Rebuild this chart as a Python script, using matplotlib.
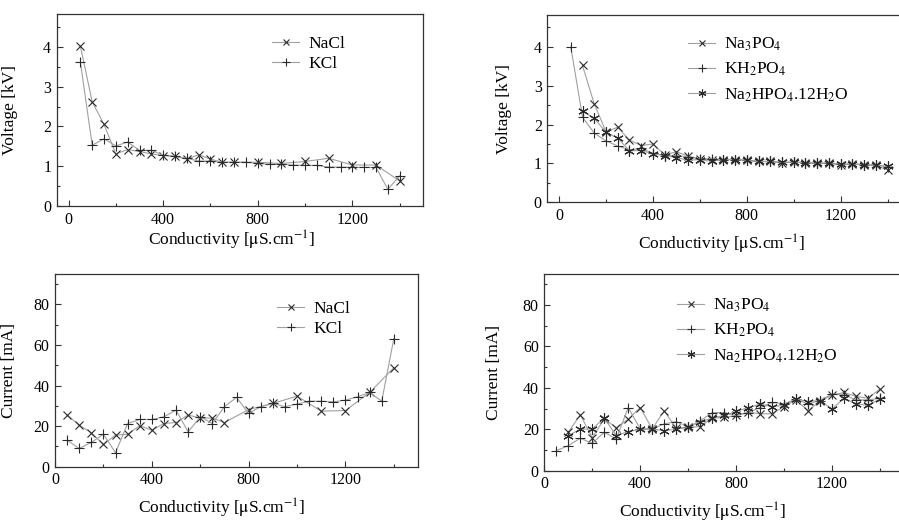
import matplotlib
matplotlib.use("Agg")
import matplotlib.pyplot as plt

plt.rcParams['font.family'] = ['Liberation Serif', 'DejaVu Serif']
plt.rcParams['mathtext.fontset'] = 'stix'

# conductivity grids
x_nacl = [50, 100, 150, 200, 250, 300, 350, 400, 450, 500, 550, 600, 650, 700,
          800, 900, 1000, 1100, 1200, 1300, 1400]
x_kcl = list(range(50, 1401, 50))
x_na3 = list(range(100, 1401, 50))
x_kh2 = list(range(50, 1401, 50))
x_na2 = list(range(100, 1401, 50))

# voltage [kV]
v_nacl = [4.02, 2.62, 2.05, 1.31, 1.42, 1.37, 1.31, 1.27, 1.25, 1.18, 1.29, 1.18, 1.1, 1.1,
          1.1, 1.07, 1.12, 1.2, 1.03, 1.03, 0.63]
v_kcl = [3.62, 1.53, 1.69, 1.51, 1.61, 1.4, 1.4, 1.28, 1.25, 1.2, 1.13, 1.13, 1.1, 1.1,
         1.1, 1.07, 1.05, 1.05, 1.03, 1.02, 1.02, 0.98, 0.98, 0.97, 0.97, 0.97, 0.42, 0.76]
v_na3 = [3.52, 2.53, 1.82, 1.93, 1.6, 1.46, 1.5, 1.22, 1.3, 1.19, 1.11, 1.1, 1.1, 1.1,
         1.08, 1.05, 1.05, 1.02, 1.03, 1.02, 1.0, 1.0, 0.97, 0.98, 0.97, 0.95, 0.83]
v_kh2 = [4.0, 2.19, 1.78, 1.58, 1.45, 1.35, 1.39, 1.26, 1.2, 1.2, 1.17, 1.12, 1.12, 1.1,
         1.1, 1.08, 1.05, 1.05, 1.03, 1.03, 1.02, 1.0, 1.0, 0.98, 0.98, 0.97, 0.95, 0.92]
v_na2 = [2.35, 2.16, 1.8, 1.65, 1.33, 1.33, 1.25, 1.2, 1.15, 1.08, 1.1, 1.05, 1.1, 1.1,
         1.08, 1.05, 1.05, 1.03, 1.03, 1.02, 1.0, 1.02, 0.98, 0.98, 0.97, 0.95, 0.93]

# current [mA]
i_nacl = [25.5, 20.5, 16.7, 11.0, 15.6, 16.0, 20.2, 18.0, 21.3, 21.8, 25.5, 24.0, 24.0, 21.8,
          28.2, 31.2, 34.8, 27.4, 27.7, 36.6, 48.8]
i_kcl = [13.1, 9.0, 12.0, 16.0, 6.9, 21.3, 23.3, 23.3, 24.6, 27.9, 17.2, 24.6, 21.3, 29.6,
         34.2, 26.3, 29.6, 31.2, 29.6, 30.9, 32.3, 32.3, 32.0, 32.8, 34.5, 36.6, 32.3, 63.2]
i_na3 = [18.6, 27.0, 16.0, 25.0, 20.8, 24.9, 30.5, 20.2, 28.9, 20.5, 21.0, 21.3, 25.4, 25.7,
         26.7, 28.3, 27.5, 27.5, 31.0, 34.2, 29.0, 33.6, 36.5, 37.8, 35.9, 35.0, 39.4]
i_kh2 = [9.7, 12.1, 15.7, 13.2, 18.6, 15.3, 30.5, 20.2, 20.2, 22.6, 23.7, 21.3, 24.0, 28.1,
         28.1, 26.5, 28.1, 30.5, 33.0, 32.3, 34.6, 32.3, 33.9, 37.0, 36.7, 34.2, 34.2, 35.0]
i_na2 = [17.0, 20.0, 20.2, 25.4, 17.0, 18.9, 20.0, 20.0, 19.4, 20.0, 21.0, 23.7, 25.4, 26.7,
         28.6, 30.5, 32.1, 31.0, 31.5, 34.7, 33.4, 33.9, 29.8, 35.0, 32.3, 31.5, 34.7]

line_c = '#a0a0a0'
mark_c = '#2a2a2a'

fig = plt.figure(figsize=(8.99, 5.25), dpi=100)
ax1 = fig.add_axes([0.0631, 0.6076, 0.4078, 0.3651])
ax2 = fig.add_axes([0.6088, 0.6147, 0.4046, 0.3568])
ax3 = fig.add_axes([0.0612, 0.1110, 0.4038, 0.3670])
ax4 = fig.add_axes([0.6055, 0.1034, 0.3999, 0.3747])


def series(ax, x, y, marker, label, ms=6):
    ax.plot(x, y, color=line_c, lw=0.8, marker=marker, ms=ms, mfc='none',
            mec=mark_c, mew=0.8, label=label)


series(ax1, x_nacl, v_nacl, 'x', 'NaCl')
series(ax1, x_kcl, v_kcl, '+', 'KCl', 7.5)
series(ax2, x_na3, v_na3, 'x', 'Na$_3$PO$_4$')
series(ax2, x_kh2, v_kh2, '+', 'KH$_2$PO$_4$', 7.5)
series(ax2, x_na2, v_na2, (6, 2, 0), 'Na$_2$HPO$_4$.12H$_2$O', 7.5)
series(ax3, x_nacl, i_nacl, 'x', 'NaCl')
series(ax3, x_kcl, i_kcl, '+', 'KCl', 7.5)
series(ax4, x_na3, i_na3, 'x', 'Na$_3$PO$_4$')
series(ax4, x_kh2, i_kh2, '+', 'KH$_2$PO$_4$', 7.5)
series(ax4, x_na2, i_na2, (6, 2, 0), 'Na$_2$HPO$_4$.12H$_2$O', 7.5)

xlab = 'Conductivity [$\\mathrm{\\mu}$S.cm$^{-1}$]'

for ax in (ax1, ax2):
    ax.set_xlim(-50, 1500)
    ax.set_ylim(0, 4.82)
    ax.set_yticks([0, 1, 2, 3, 4])
    ax.set_yticks([0.5, 1.5, 2.5, 3.5, 4.5], minor=True)
    ax.set_ylabel('Voltage [kV]', fontsize=12.5)
for ax in (ax3, ax4):
    ax.set_xlim(0, 1500)
    ax.set_ylim(0, 95)
    ax.set_yticks([0, 20, 40, 60, 80])
    ax.set_yticks([10, 30, 50, 70, 90], minor=True)
    ax.set_ylabel('Current [mA]', fontsize=12.5)

for ax in (ax1, ax2, ax3, ax4):
    ax.set_xticks([0, 400, 800, 1200])
    ax.set_xticks([200, 600, 1000, 1400], minor=True)
    ax.tick_params(which='both', direction='in', top=False, right=False,
                   labelsize=11.5, color='#333333')
    ax.tick_params(which='major', length=4.5, width=0.8, pad=4)
    ax.tick_params(which='minor', length=2.5, width=0.8)
    for s in ax.spines.values():
        s.set_color('#333333')
        s.set_linewidth(0.9)
    ax.set_xlabel(xlab, fontsize=12.5)

ax1.xaxis.set_label_coords(0.478, -0.12)
ax2.xaxis.set_label_coords(0.48, -0.164)
ax3.xaxis.set_label_coords(0.46, -0.157)
ax4.xaxis.set_label_coords(0.439, -0.155)
ax1.yaxis.set_label_coords(-0.106, 0.5)
ax2.yaxis.set_label_coords(-0.096, 0.5)
ax3.yaxis.set_label_coords(-0.105, 0.5)
ax4.yaxis.set_label_coords(-0.118, 0.5)

leg_kw = dict(frameon=False, fontsize=12.5, loc='upper left', borderpad=0,
              handlelength=1.6, handletextpad=0.5, markerscale=0.75,
              bbox_transform=fig.transFigure)
ax1.legend(bbox_to_anchor=(263 / 899, 1 - 27 / 525), labelspacing=0.25, **leg_kw)
ax2.legend(bbox_to_anchor=(679 / 899, 1 - 27 / 525), labelspacing=0.45, **leg_kw)
ax3.legend(bbox_to_anchor=(268 / 899, 1 - 292 / 525), labelspacing=0.25, **leg_kw)
ax4.legend(bbox_to_anchor=(668 / 899, 1 - 288 / 525), labelspacing=0.45, **leg_kw)

fig.savefig('out.png', dpi=100)
